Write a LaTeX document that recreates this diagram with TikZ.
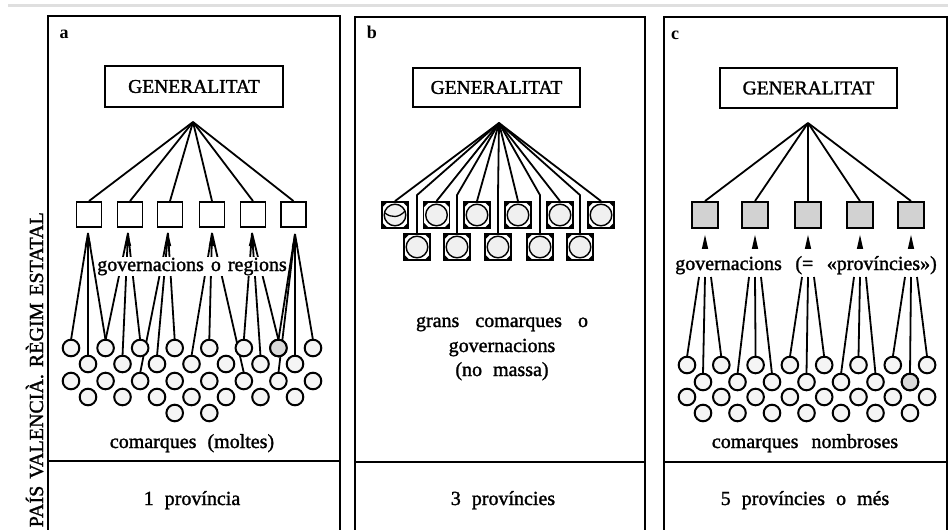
\documentclass[tikz,border=0pt]{standalone}
\usepackage{fontspec}
\setmainfont{Liberation Serif}
\newfontfamily\heavy{Liberation Serif}[FakeBold=1.4]
\newfontfamily\heavybf{Liberation Serif Bold}
\begin{document}
\begin{tikzpicture}[x=1pt,y=-1pt,
  panelline/.style={line width=1.9pt},
  conn/.style={line width=1.8pt},
  genbox/.style={draw,line width=1.9pt,inner sep=0pt,font=\heavy\fontsize{19.5}{22}\selectfont},
  sqa/.style={draw,line width=1.9pt,minimum size=25pt,inner sep=0pt},
  sqc/.style={sqa,minimum size=26pt,fill=gray!35},
  circ/.style={circle,draw,line width=2pt,minimum size=16.6pt,inner sep=0pt,fill=gray!8},
  circd/.style={circ,fill=gray!30},
  lbl/.style={font={\heavy\fontsize{20}{24}\selectfont\spaceskip=11pt\relax},anchor=base,inner sep=0.5pt},
  pan/.style={font=\heavybf\fontsize{18}{20}\selectfont,anchor=base},
  sqb/.style={draw,line width=1.8pt,minimum size=26pt,inner sep=0pt,
    path picture={
      \fill[gray!12] (path picture bounding box.center) circle (10.8pt);
      \draw[line width=1.4pt] (path picture bounding box.center) circle (10.8pt);
      \fill (path picture bounding box.north east) -- ++(-5.5pt,0pt) -- ++(5.5pt,-5.5pt) -- cycle;
      \fill (path picture bounding box.north west) -- ++(5.5pt,0pt) -- ++(-5.5pt,-5.5pt) -- cycle;
      \fill (path picture bounding box.south east) -- ++(-5.5pt,0pt) -- ++(5.5pt,5.5pt) -- cycle;
      \fill (path picture bounding box.south west) -- ++(5.5pt,0pt) -- ++(-5.5pt,5.5pt) -- cycle;
    }}
]
\useasboundingbox (0,0) rectangle (948,530);
\clip (0,0) rectangle (948,530);
\fill[white] (0,0) rectangle (948,530);
\draw[gray!25,line width=3pt] (8,5) -- (948,5);

% vertical title
\node[rotate=90,anchor=base east,font={\heavy\fontsize{20}{24}\selectfont\spaceskip=7pt\relax},inner sep=0pt] (vt) at (43,212) {PAÍS VALENCIÀ. RÈGIM ESTATAL};

% panels
\draw[panelline] (48,16) rectangle (340,560);
\draw[panelline] (48,461) -- (340,461);
\draw[panelline] (355,17) rectangle (645,560);
\draw[panelline] (355,462) -- (645,462);
\draw[panelline] (664,17) rectangle (947,560);
\draw[panelline] (664,462) -- (947,462);

\node[pan] (la) at (64,38) {a};
\node[pan] (lb) at (372,38) {b};
\node[pan] (lc) at (675,39) {c};

\node[genbox,minimum width=178pt,minimum height=41pt] (GA) at (194,86.5) {GENERALITAT};
\node[genbox,minimum width=167pt,minimum height=39pt] (GB) at (496.5,87.5) {GENERALITAT};
\node[genbox,minimum width=177pt,minimum height=40pt] (GC) at (808.5,88) {GENERALITAT};

\coordinate (AAp) at (193,122);
\coordinate (BAp) at (499,123);
\coordinate (CAp) at (808,123);

% ---------- panel a ----------
\foreach \n/\x in {1/89,2/130,3/170,4/212,5/253,6/293.5} {
  \node[sqa] (A\n) at (\x,214.5) {};
  \draw[conn] (AAp) -- (A\n.north);
}
\coordinate (aw1) at (88,233);
\coordinate (aw2) at (128,233);
\coordinate (aw3) at (168,233);
\coordinate (aw4) at (212,233);
\coordinate (aw5) at (252,233);
\coordinate (aw6) at (295,234);

\foreach \i in {0,...,7} {
  \coordinate (ar1-\i) at ({71+34.57*\i},348);
  \coordinate (ar3-\i) at ({71+34.57*\i},381);
}
\foreach \i in {0,...,6} {
  \coordinate (ar2-\i) at ({88+34.5*\i},364);
  \coordinate (ar4-\i) at ({88+34.5*\i},397);
}
% connectors from arrows to comarques
\foreach \a/\c in {aw1/ar1-0,aw1/ar2-0,aw1/ar1-1,
                   aw2/ar1-1,aw2/ar2-1,aw2/ar1-2,
                   aw3/ar3-2,aw3/ar2-2,aw3/ar1-3,
                   aw4/ar2-3,aw4/ar1-4,aw4/ar3-5,
                   aw5/ar1-5,aw5/ar2-5,aw5/ar1-6,
                   aw6/ar1-6,aw6/ar3-6,aw6/ar2-6,aw6/ar1-7} {
  \draw[conn] (\a) -- ([yshift=8pt]\c);
}
\foreach \i in {0,...,7} {
  \node[circ] (ca1-\i) at (ar1-\i) {};
  \node[circ] (ca3-\i) at (ar3-\i) {};
}
\foreach \i in {0,...,6} {
  \node[circ] (ca2-\i) at (ar2-\i) {};
  \node[circ] (ca4-\i) at (ar4-\i) {};
}
\node[circd] (ca1-6b) at (ar1-6) {};
\node[circ] (ca5-0) at (174.7,413) {};
\node[circ] (ca5-1) at (209.3,413) {};
\foreach \a in {aw1,aw2,aw3,aw4,aw5,aw6} {
  \fill (\a) -- ++(-3.2,13) -- ++(6.4,0) -- cycle;
}
\node[lbl,fill=white,font={\heavy\fontsize{20}{24}\selectfont\spaceskip=7pt\relax}] (ta1) at (192,271) {governacions o regions};
\node[lbl] (ta2) at (192,448) {comarques (moltes)};
\node[lbl] (ta3) at (192,505) {1 província};

% ---------- panel b ----------
\foreach \n/\x in {1/395,2/436.5,3/477,4/518,5/560,6/601} {
  \node[sqb] (B\n) at (\x,215) {};
  \draw[conn] (BAp) -- (B\n.north);
}
\foreach \n/\x in {7/417,8/457,9/498,10/540,11/580} {
  \node[sqb] (B\n) at (\x,247) {};
  \draw[conn] (BAp) -- ([yshift=38pt]B\n.north) -- (B\n.north);
}
\draw[line width=1.3pt] ([xshift=-10pt,yshift=2pt]B1.center) .. controls ([xshift=-4pt,yshift=-3pt]B1.center) and ([xshift=4pt,yshift=-3pt]B1.center) .. ([xshift=10pt,yshift=4pt]B1.center);
\node[lbl,font={\heavy\fontsize{20}{24}\selectfont\spaceskip=16pt\relax}] (tb1) at (502,327) {grans comarques o};
\node[lbl] (tb2) at (502,352) {governacions};
\node[lbl] (tb3) at (502,376) {(no massa)};
\node[lbl] (tb4) at (503,505) {3 províncies};

% ---------- panel c ----------
\foreach \n/\x in {1/705,2/755,3/808,4/860,5/911} {
  \node[sqc] (C\n) at (\x,215) {};
  \draw[conn] (CAp) -- (C\n.north);
  \fill ([yshift=-6pt]C\n.south) -- ++(-3.2,14) -- ++(6.4,0) -- cycle;
  \coordinate (gc\n) at (\x,277);
}
\foreach \i in {0,...,7} {
  \coordinate (cr1-\i) at ({687+34.3*\i},365);
  \coordinate (cr3-\i) at ({687+34.3*\i},397);
}
\foreach \i in {0,...,6} {
  \coordinate (cr2-\i) at ({703+34.5*\i},382);
  \coordinate (cr4-\i) at ({703+34.5*\i},413);
}
\foreach \g/\l/\m/\r in {gc1/cr1-0/cr2-0/cr1-1, gc2/cr2-1/cr1-2/cr2-2, gc3/cr1-3/cr2-3/cr1-4,
                         gc4/cr2-4/cr1-5/cr2-5, gc5/cr1-6/cr2-6/cr1-7} {
  \draw[conn] ([xshift=-6pt]\g) -- ([yshift=8pt]\l);
  \draw[conn] (\g) -- ([yshift=8pt]\m);
  \draw[conn] ([xshift=6pt]\g) -- ([yshift=8pt]\r);
}
\foreach \i in {0,...,7} {
  \node[circ] (cc1-\i) at (cr1-\i) {};
  \node[circ] (cc3-\i) at (cr3-\i) {};
}
\foreach \i in {0,...,6} {
  \node[circ] (cc2-\i) at (cr2-\i) {};
  \node[circ] (cc4-\i) at (cr4-\i) {};
}
\node[circd] (cc2-6b) at (cr2-6) {};
\node[lbl,font={\heavy\fontsize{20}{24}\selectfont\spaceskip=13.5pt\relax}] (tc1) at (806,270) {governacions (= «províncies»)};
\node[lbl,font={\heavy\fontsize{20}{24}\selectfont\spaceskip=13pt\relax}] (tc2) at (805,448) {comarques nombroses};
\node[lbl] (tc3) at (805,505) {5 províncies o més};
\end{tikzpicture}
\end{document}
